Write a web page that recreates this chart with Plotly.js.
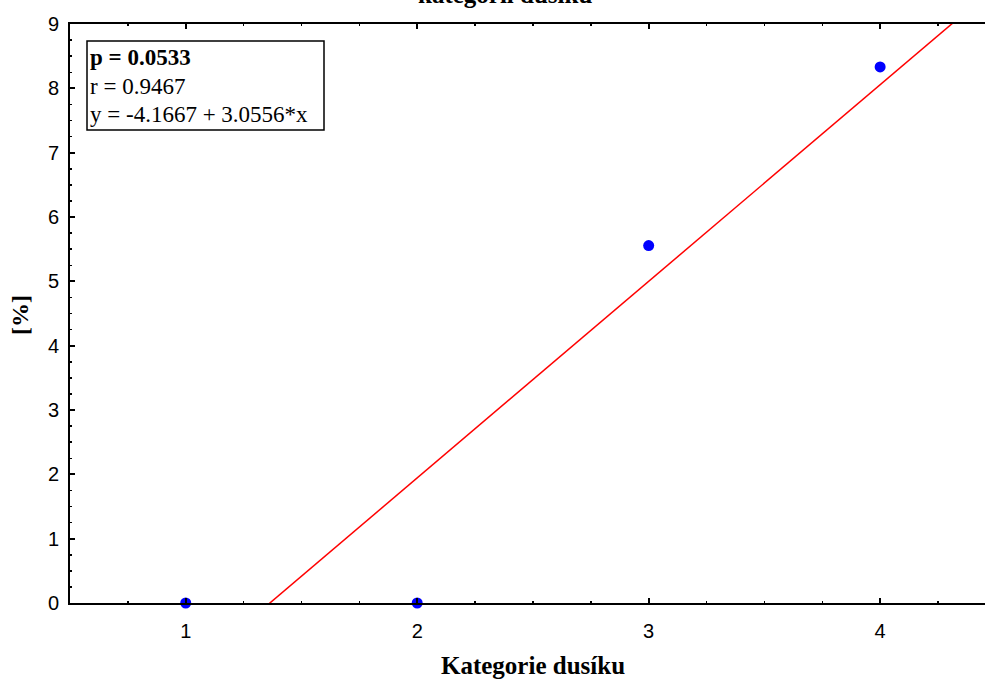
<!DOCTYPE html>
<html>
<head>
<meta charset="utf-8">
<script src="https://cdn.plot.ly/plotly-3.0.1.min.js"></script>
<style>html,body{margin:0;padding:0;background:#fff}#chart{width:985px;height:682px}</style>
</head>
<body>
<div id="chart"></div>
<script>
// Data
const categories = [1, 2, 3, 4];
const values = [0, 0, 5.5556, 8.3333];
const intercept = -4.1667;
const slope = 3.0556;
const lineX = [0.5, 4.5];
const lineY = lineX.map(x => intercept + slope * x);
const xTicks = [1, 2, 3, 4];
const yTicks = [0, 1, 2, 3, 4, 5, 6, 7, 8, 9];
const statLines = ['<b>p = 0.0533</b>', 'r = 0.9467', 'y = -4.1667 + 3.0556*x'];

const serif = '"Liberation Serif", "Times New Roman", serif';
const sans = '"Liberation Sans", Arial, sans-serif';

// pixel helpers for paper coords (plot area: left 70, top 24, width 915, height 579)
const W = 915, H = 579, L = 70, T = 24;
const px = x => (x - L) / W;
const py = y => (T + H - y) / H;

const traces = [
  {x: lineX, y: lineY, mode: 'lines', line: {color: '#ff0000', width: 1.5}, hoverinfo: 'skip'},
  {x: categories, y: values, mode: 'markers', marker: {color: '#0000ff', size: 11}, cliponaxis: false}
];

const statAnn = statLines.map((t, i) => ({
  xref: 'paper', yref: 'paper', x: px(88), y: py(58 + i * 28.5),
  xanchor: 'left', yanchor: 'middle', text: t, showarrow: false,
  font: {family: serif, size: 23, color: '#000'}
}));

const layout = {
  width: 985, height: 682,
  margin: {l: 70, r: 0, t: 24, b: 79},
  paper_bgcolor: '#fff', plot_bgcolor: '#fff',
  showlegend: false,
  xaxis: {
    range: [0.5, 4.453], tickvals: xTicks, ticktext: xTicks.map(String),
    ticks: 'inside', ticklen: 5, tickwidth: 2, tickcolor: '#000',
    showline: true, linecolor: '#000', linewidth: 2, mirror: 'ticks',
    showgrid: false, zeroline: false,
    tickfont: {family: sans, size: 20, color: '#000'}, ticklabelstandoff: 9,
    minor: {dtick: 0.25, tick0: 0, ticks: 'inside', ticklen: 2, tickwidth: 1.5, tickcolor: '#000', showgrid: false}
  },
  yaxis: {
    range: [0, 9], tickvals: yTicks, ticktext: yTicks.map(String),
    ticks: 'inside', ticklen: 5, tickwidth: 2, tickcolor: '#000',
    showline: true, linecolor: '#000', linewidth: 2,
    showgrid: false, zeroline: false,
    tickfont: {family: sans, size: 20, color: '#000'}, ticklabelstandoff: 5,
    minor: {dtick: 0.25, tick0: 0, ticks: 'inside', ticklen: 2, tickwidth: 1.5, tickcolor: '#000', showgrid: false}
  },
  shapes: [
    {type: 'rect', xref: 'paper', yref: 'paper', x0: px(87), x1: px(324), y0: py(41), y1: py(130),
     line: {color: '#000', width: 1.5}, fillcolor: '#fff', layer: 'above'}
  ],
  annotations: [
    ...statAnn,
    {xref: 'x', yref: 'paper', x: 2.5, y: py(665), xanchor: 'center', yanchor: 'middle',
     text: '<b>Kategorie dusíku</b>', showarrow: false, font: {family: serif, size: 25, color: '#000'}},
    {xref: 'paper', yref: 'paper', x: px(20), y: py(315), xanchor: 'center', yanchor: 'middle', textangle: -90,
     text: '<b>[%]</b>', showarrow: false, font: {family: serif, size: 24, color: '#000'}},
    {xref: 'paper', yref: 'paper', x: px(505), y: py(10), xanchor: 'center', yanchor: 'bottom',
     text: '<b>kategorii dusíku</b>', showarrow: false, font: {family: serif, size: 25, color: '#000'}}
  ]
};

Plotly.newPlot('chart', traces, layout, {displayModeBar: false, staticPlot: true});
</script>
</body>
</html>
